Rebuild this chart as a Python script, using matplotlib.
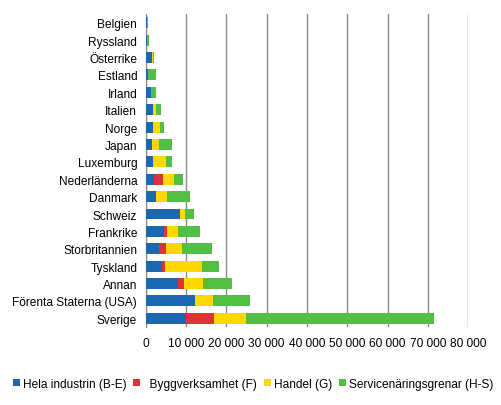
import matplotlib
matplotlib.use('Agg')
import matplotlib.pyplot as plt
from matplotlib.patches import Patch
import numpy as np

plt.rcParams['font.family'] = ['Liberation Sans', 'DejaVu Sans']

countries = ['Belgien', 'Ryssland', 'Österrike', 'Estland', 'Irland', 'Italien', 'Norge',
             'Japan', 'Luxemburg', 'Nederländerna', 'Danmark', 'Schweiz', 'Frankrike',
             'Storbritannien', 'Tyskland', 'Annan', 'Förenta Staterna (USA)', 'Sverige']
industri = [350, 250, 1550, 580, 1320, 1820, 1820, 1570, 1820, 1990, 2570, 8520, 4470,
            3390, 3970, 8020, 12240, 9930]
bygg = [0, 0, 0, 0, 0, 0, 0, 0, 0, 2320, 0, 0, 830, 1650, 830, 1490, 0, 7030]
handel = [0, 150, 250, 0, 0, 745, 1740, 1740, 3230, 2650, 2730, 1240, 2730, 3970, 9180,
          4710, 4470, 7940]
service = [300, 350, 250, 1990, 1240, 1240, 990, 3230, 1490, 2320, 5710, 2230, 5460, 7440,
           4220, 7200, 9180, 46650]

labels = ['Hela industrin (B-E)', '  Byggverksamhet (F)', 'Handel (G)', 'Servicenäringsgrenar (H-S)']
colors = ['#1b68b0', '#dc3333', '#ffd800', '#52bf44']

fs = 8.6
fig = plt.figure(figsize=(5.02, 4.06), dpi=100)
ax = fig.add_axes([0.290, 0.192, 0.643, 0.771])

y = np.arange(len(countries))
left = np.zeros(len(countries))
for vals, c in zip([industri, bygg, handel, service], colors):
    ax.barh(y, vals, left=left, height=0.63, color=c, zorder=3)
    left += np.array(vals)

ax.set_xlim(0, 80000)
ax.set_ylim(len(countries) - 0.5, -0.5)
ax.set_yticks(y)
ax.set_yticklabels(countries, fontsize=fs)
ax.set_xticks(np.arange(0, 80001, 10000))
ax.set_xticklabels(['0' if v == 0 else f'{v // 1000} 000' for v in range(0, 80001, 10000)],
                   fontsize=fs)
ax.tick_params(axis='y', length=0, pad=6)
ax.tick_params(axis='x', length=0, pad=7)
ax.grid(axis='x', color='#8a8a8a', linewidth=1, zorder=0)
for s in ['top', 'right', 'bottom']:
    ax.spines[s].set_visible(False)
ax.spines['left'].set_color('#8a8a8a')

handles = [Patch(facecolor=c) for c in colors]
fig.legend(handles, labels, loc='center', bbox_to_anchor=(0.504, 0.052), ncol=4, frameon=False,
           fontsize=fs, handlelength=0.55, handleheight=0.55, handletextpad=0.25,
           columnspacing=0.6, borderpad=0)

fig.savefig('out.png', dpi=100)
